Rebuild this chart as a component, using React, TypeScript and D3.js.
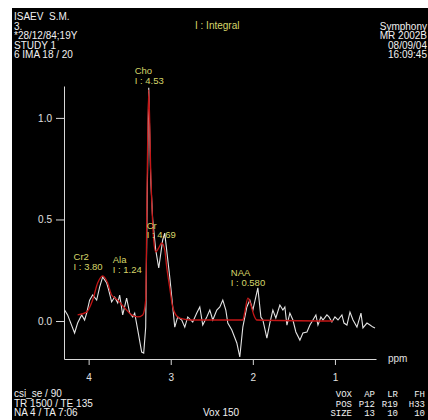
import React, { useEffect, useRef } from "react";
import * as d3 from "d3";

// raw spectrum (white)
const rawPpm = [4.293, 4.256, 4.171, 4.134, 4.085, 4.049, 4.024, 3.988, 3.951, 3.902, 3.866, 3.829, 3.780, 3.756, 3.720, 3.683, 3.646, 3.622, 3.585, 3.537, 3.500, 3.463, 3.439, 3.402, 3.354, 3.329, 3.305, 3.287, 3.268, 3.244, 3.220, 3.183, 3.146, 3.098, 3.073, 3.012, 2.951, 2.915, 2.866, 2.829, 2.793, 2.732, 2.683, 2.646, 2.610, 2.561, 2.524, 2.488, 2.439, 2.402, 2.366, 2.329, 2.305, 2.256, 2.195, 2.159, 2.122, 2.073, 2.037, 2.000, 1.939, 1.902, 1.878, 1.829, 1.793, 1.756, 1.720, 1.671, 1.634, 1.610, 1.585, 1.549, 1.512, 1.476, 1.427, 1.390, 1.341, 1.305, 1.268, 1.232, 1.207, 1.171, 1.146, 1.098, 1.073, 1.037, 1.000, 0.963, 0.915, 0.890, 0.854, 0.817, 0.780, 0.732, 0.683, 0.659, 0.610, 0.573, 0.537, 0.512];
const rawVal = [0.054, 0.030, -0.059, -0.010, 0.030, 0.005, 0.039, 0.103, 0.128, 0.103, 0.167, 0.217, 0.187, 0.153, 0.094, 0.118, 0.089, 0.128, 0.030, 0.113, 0.039, 0.020, 0.039, -0.044, -0.153, -0.158, -0.030, 0.596, 1.148, 0.700, 0.500, 0.350, 0.261, 0.399, 0.433, 0.217, -0.030, 0.020, 0.005, -0.030, 0.020, -0.005, 0.039, 0.069, -0.020, 0.020, 0.054, 0.005, 0.054, 0.069, 0.103, 0.054, -0.010, -0.044, -0.108, -0.177, -0.030, 0.069, 0.103, 0.054, 0.163, 0.020, 0.005, -0.084, -0.010, 0.054, 0.015, 0.079, 0.054, 0.069, -0.020, 0.039, 0.005, -0.054, -0.094, -0.059, -0.054, -0.020, 0.005, 0.030, -0.020, 0.020, 0.005, 0.030, 0.020, -0.005, 0.020, 0.005, 0.030, -0.010, -0.020, 0.044, 0.005, -0.030, 0.039, -0.034, -0.010, -0.020, -0.030, -0.034];

// fitted spectrum (red)
const fitPpm = [4.134, 4.024, 3.951, 3.890, 3.829, 3.768, 3.720, 3.646, 3.561, 3.476, 3.402, 3.341, 3.305, 3.287, 3.268, 3.244, 3.207, 3.183, 3.146, 3.110, 3.073, 3.049, 3.012, 2.976, 2.915, 2.854, 2.768, 2.122, 2.098, 2.061, 2.024, 1.988, 1.951, 1.024];
const fitVal = [0.030, 0.044, 0.103, 0.187, 0.222, 0.187, 0.128, 0.103, 0.064, 0.030, 0.020, 0.030, 0.103, 0.695, 1.138, 0.744, 0.399, 0.340, 0.360, 0.384, 0.350, 0.266, 0.163, 0.069, 0.020, 0.010, 0.005, 0.005, 0.044, 0.113, 0.079, 0.030, 0.005, 0.000];

const peakNames = ["Cho", "Cr", "Cr2", "Ala", "NAA"];
const peakIntegrals = ["4.53", "4.69", "3.80", "1.24", "0.580"];
const labelPpm = [3.439, 3.293, 4.183, 3.707, 2.268];
const labelVal = [1.212, 0.453, 0.296, 0.281, 0.217];

const xTicks = [4, 3, 2, 1];
const yTicks = [0, 0.5, 1.0];

const headerLeft = ["ISAEV  S.M.", "3.", "*28/12/84;19Y", "STUDY 1", "6 IMA 18 / 20"];
const headerRight = ["Symphony", "MR 2002B", "08/09/04", "16:09:45"];
const footerLeft = ["csi_se / 90", "TR 1500 / TE 135", "NA 4 / TA 7:06"];
const voxTable = [
  ["VOX", "AP", "LR", "FH"],
  ["POS", "P12", "R19", "H33"],
  ["SIZE", "13", "10", "10"],
];

const FONT = "'Liberation Sans', Arial, sans-serif";
const YELLOW = "#d6d66a";

export default function App() {
  const ref = useRef<SVGSVGElement>(null);

  useEffect(() => {
    const svg = d3.select(ref.current);
    svg.selectAll("*").remove();

    svg.append("rect").attr("width", 428).attr("height", 420).attr("fill", "#fff");
    svg.append("rect").attr("x", 12).attr("y", 8).attr("width", 416).attr("height", 412).attr("fill", "#000");

    const x = d3.scaleLinear().domain([4.30, 0.50]).range([64, 376]);
    const y = d3.scaleLinear().domain([-0.187, 1.157]).range([359, 86]);

    const xAxis = d3.axisBottom(x).tickValues(xTicks).tickFormat(d3.format("d")).tickSize(6).tickSizeOuter(0).tickPadding(9);
    const yAxis = d3.axisLeft(y).tickValues(yTicks).tickFormat(d3.format(".1f")).tickSize(8).tickSizeOuter(0).tickPadding(4);

    const gx = svg.append("g").attr("transform", "translate(0,359)").call(xAxis);
    const gy = svg.append("g").attr("transform", "translate(64,0)").call(yAxis);
    [gx, gy].forEach(g => {
      g.selectAll("path, line").attr("stroke", "#d8d8d8");
      g.selectAll("text").attr("fill", "#e0e0e0").attr("font-family", FONT).attr("font-size", 10);
    });

    svg.append("text").attr("x", 388).attr("y", 362).attr("fill", "#e0e0e0")
      .attr("font-family", FONT).attr("font-size", 10).text("ppm");

    const rawLine = d3.line<number>().x((_, i) => x(rawPpm[i])).y(d => y(d));
    const fitLine = d3.line<number>().x((_, i) => x(fitPpm[i])).y(d => y(d)).curve(d3.curveMonotoneX);

    svg.append("path").attr("d", rawLine(rawVal)).attr("fill", "none")
      .attr("stroke", "#e4e4e4").attr("stroke-width", 1.1);
    svg.append("path").attr("d", fitLine(fitVal)).attr("fill", "none")
      .attr("stroke", "#c41616").attr("stroke-width", 1.3);

    // peak labels
    const lab = svg.append("g").attr("font-family", FONT).attr("font-size", 9.5).attr("fill", YELLOW);
    peakNames.forEach((name, i) => {
      const px = x(labelPpm[i]);
      const py = y(labelVal[i]);
      lab.append("text").attr("x", px).attr("y", py - 0.5).text(name);
      lab.append("text").attr("x", px).attr("y", py + 9).text("I : " + peakIntegrals[i]);
    });
    svg.append("text").attr("x", 195).attr("y", 29).attr("fill", YELLOW)
      .attr("font-family", FONT).attr("font-size", 10).text("I : Integral");

    // header / footer
    const info = svg.append("g").attr("font-family", FONT).attr("font-size", 10).attr("fill", "#f0f0f0");
    headerLeft.forEach((s, i) => info.append("text").attr("x", 14).attr("y", 20 + i * 9.5)
      .attr("xml:space", "preserve").text(s));
    headerRight.forEach((s, i) => info.append("text").attr("x", 427).attr("y", 29.5 + i * 9.5)
      .attr("text-anchor", "end").text(s));
    footerLeft.forEach((s, i) => info.append("text").attr("x", 14).attr("y", 397 + i * 9.5).text(s));
    info.append("text").attr("x", 203).attr("y", 416).text("Vox 150");

    const colRight = [352, 375, 398, 425];
    const tbl = svg.append("g").attr("font-family", "'Liberation Mono', 'DejaVu Sans Mono', monospace")
      .attr("font-size", 9).attr("fill", "#f0f0f0").attr("text-anchor", "end");
    voxTable.forEach((row, r) => row.forEach((cell, c) =>
      tbl.append("text").attr("x", colRight[c]).attr("y", 397 + r * 9.5).text(cell)));
  }, []);

  return (
    <svg ref={ref} width={428} height={420}
      style={{ position: "absolute", left: 0, top: 0, display: "block" }} />
  );
}
